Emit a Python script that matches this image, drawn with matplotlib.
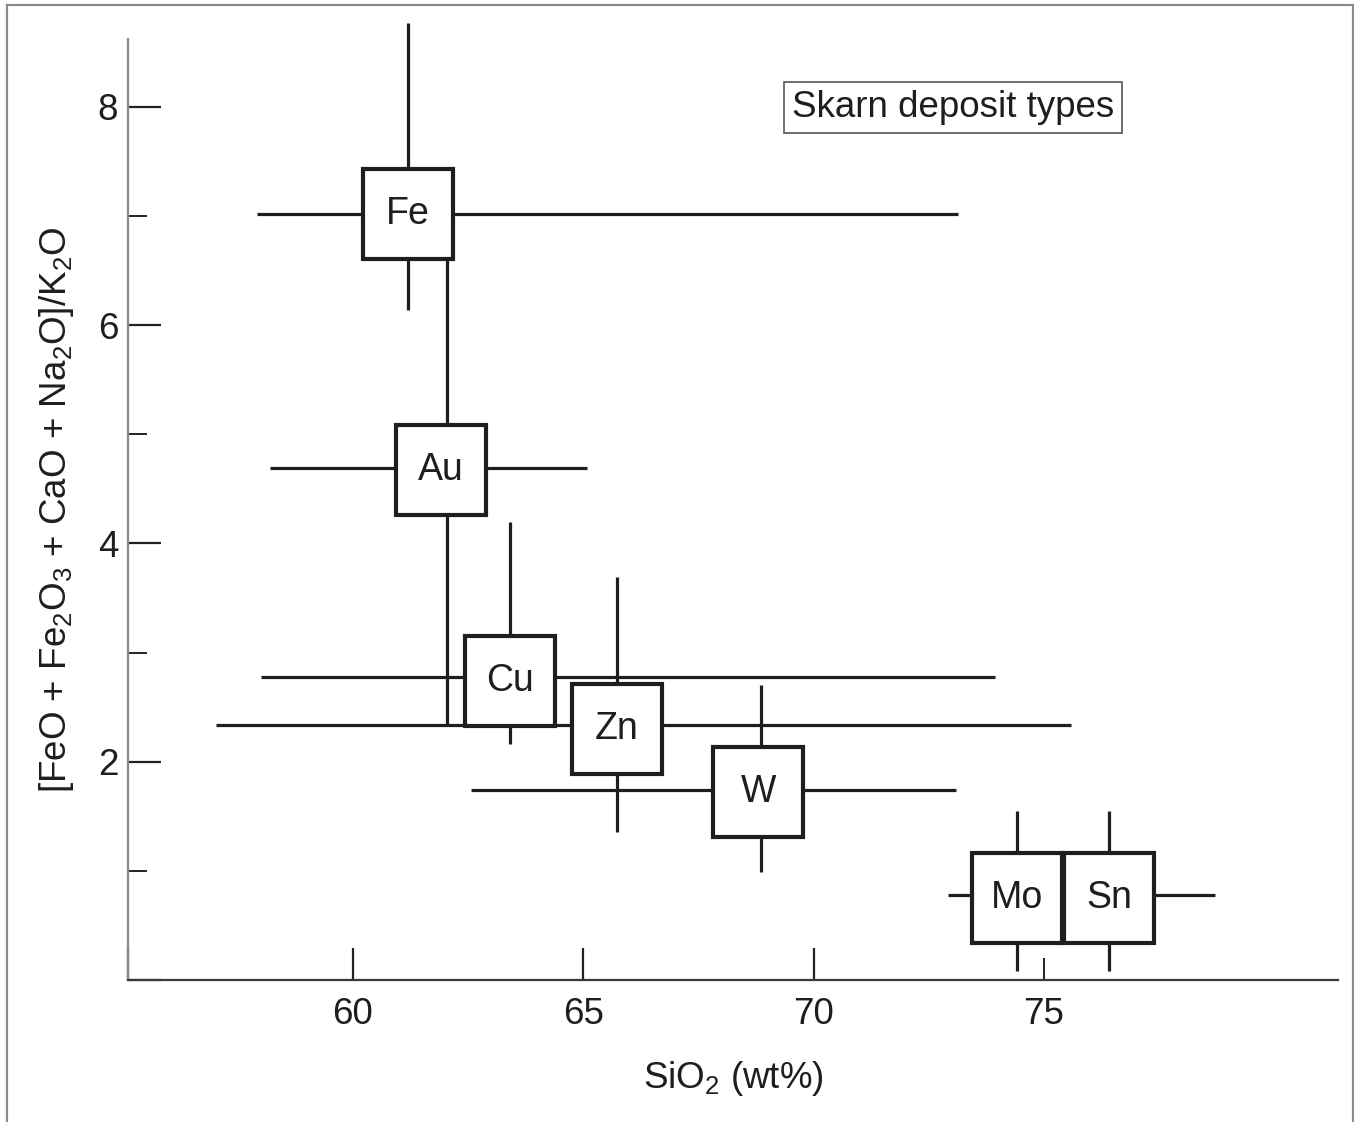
import matplotlib
matplotlib.use("Agg")
import matplotlib.pyplot as plt
from matplotlib.lines import Line2D

plt.rcParams['font.family'] = ['Liberation Sans', 'DejaVu Sans']
plt.rcParams['mathtext.fontset'] = 'custom'
plt.rcParams['mathtext.rm'] = 'Liberation Sans'
plt.rcParams['mathtext.it'] = 'Liberation Sans:italic'
plt.rcParams['mathtext.bf'] = 'Liberation Sans:bold'

# ---- data ----
deposits = ['Fe', 'Au', 'Cu', 'Zn', 'W', 'Mo', 'Sn']
sio2 = [61.20, 61.91, 63.42, 65.73, 68.80, 74.42, 76.41]          # box centre x
ratio = [7.02, 4.67, 2.74, 2.30, 1.72, 0.75, 0.75]                 # box centre y
sio2_lo = [57.92, 58.20, 58.01, 57.03, 62.56, 72.92, 74.42]        # horizontal range
sio2_hi = [73.13, 65.08, 73.93, 75.58, 73.09, 76.41, 78.71]
hline_y = [7.02, 4.69, 2.78, 2.34, 1.74, 0.78, 0.78]               # level of horizontal range
ratio_lo = [6.14, 2.34, 2.16, 1.36, 0.99, 0.08, 0.08]              # vertical range
ratio_hi = [8.77, 6.60, 4.20, 3.69, 2.70, 1.55, 1.55]
vline_x = [61.20, 62.04, 63.42, 65.73, 68.86, 74.42, 76.41]        # position of vertical range

x_limits = [55.12, 81.38]
y_limits = [0.0, 8.62]
x_major = [60, 65, 70]
x_major_labels = ['60', '65', '70']
x_minor = [75]
x_minor_labels = ['75']
y_major = [0, 2, 4, 6, 8]
y_major_labels = ['', '2', '4', '6', '8']
y_minor = [1, 3, 5, 7]

# ---- figure ----
W, H = 1354, 1122
fig = plt.figure(figsize=(W / 100, H / 100), dpi=100)
ax = fig.add_axes([128 / W, 1 - 980 / H, (1338 - 128) / W, (980 - 39) / H])
ax.set_xlim(*x_limits)
ax.set_ylim(*y_limits)

ink = '#1e1e1e'
line_kw = dict(color=ink, lw=2.3, solid_capstyle='butt', clip_on=False, zorder=2)
for i in range(len(deposits)):
    ax.plot([sio2_lo[i], sio2_hi[i]], [hline_y[i], hline_y[i]], **line_kw)
    ax.plot([vline_x[i], vline_x[i]], [ratio_lo[i], ratio_hi[i]], **line_kw)

ax.plot(sio2, ratio, linestyle='none', marker='s', markersize=64.5,
        markerfacecolor='white', markeredgecolor=ink, markeredgewidth=3.0,
        clip_on=False, zorder=3)
for name, x, y in zip(deposits, sio2, ratio):
    ax.text(x, y, name, ha='center', va='center', fontsize=27,
            color=ink, zorder=4)

# spines
for s in ['top', 'right']:
    ax.spines[s].set_visible(False)
ax.spines['left'].set_color('#8a8a8a')
ax.spines['left'].set_linewidth(1.6)
ax.spines['bottom'].set_color('#3a3a3a')
ax.spines['bottom'].set_linewidth(1.6)

# ticks
ax.set_xticks([x_limits[0]] + x_major)
ax.set_xticklabels([''] + x_major_labels)
ax.set_xticks(x_minor, minor=True)
ax.set_xticklabels(x_minor_labels, minor=True)
ax.set_yticks(y_major)
ax.set_yticklabels(y_major_labels)
ax.set_yticks(y_minor, minor=True)
ax.tick_params(axis='x', which='major', direction='in', length=23, width=1.6,
               color='#222222', labelsize=26.5, pad=12, labelcolor=ink)
ax.tick_params(axis='x', which='minor', direction='in', length=16, width=1.4,
               color='#222222', labelsize=26.5, pad=12, labelcolor=ink)
ax.tick_params(axis='y', which='major', direction='in', length=24, width=1.6,
               color='#222222', labelsize=26.5, pad=7, labelcolor=ink)
ax.tick_params(axis='y', which='minor', direction='in', length=14, width=1.4,
               color='#222222')

ax.set_xlabel(r'SiO$_\mathregular{2}$ (wt%)', fontsize=26.5, color=ink, labelpad=20)
ax.set_ylabel(r'[FeO + Fe$_\mathregular{2}$O$_\mathregular{3}$ + CaO + Na$_\mathregular{2}$O]/K$_\mathregular{2}$O',
              fontsize=26.5, color=ink, labelpad=16)

ax.text(0.682, 0.927, 'Skarn deposit types', transform=ax.transAxes,
        ha='center', va='center', fontsize=26.5, color=ink,
        bbox=dict(boxstyle='square,pad=0.22', facecolor='white',
                  edgecolor='#555555', linewidth=1.2), zorder=5)

# outer frame (left, top, right)
fc = '#8a8a8a'
fig.add_artist(Line2D([7 / W, 7 / W], [0, 1 - 5 / H], color=fc, lw=1.6))
fig.add_artist(Line2D([7 / W, 1353 / W], [1 - 5 / H, 1 - 5 / H], color=fc, lw=1.6))
fig.add_artist(Line2D([1353 / W, 1353 / W], [0, 1 - 5 / H], color=fc, lw=1.6))

fig.savefig('out.png', dpi=100, facecolor='white')
